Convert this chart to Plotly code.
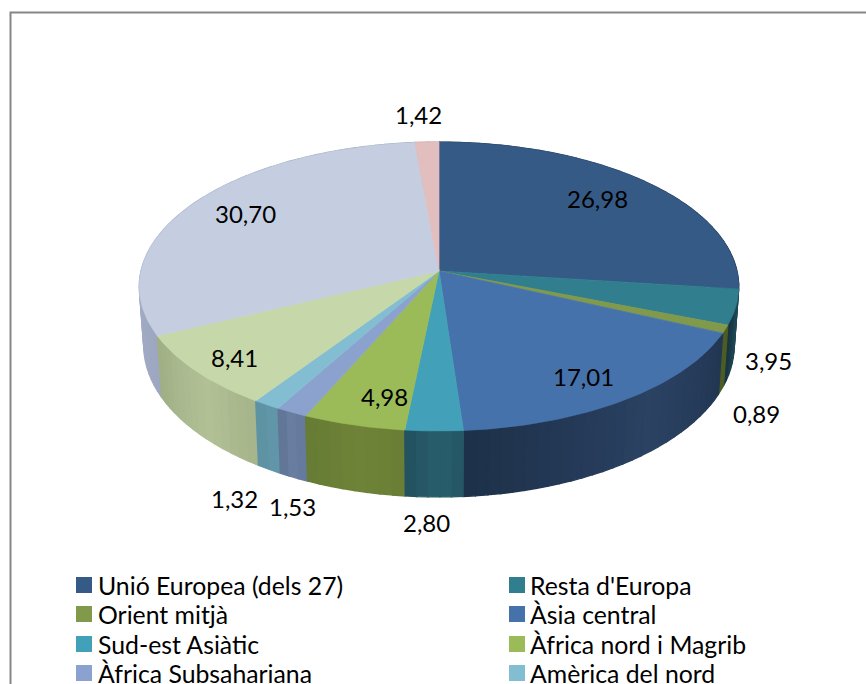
import math
import plotly.graph_objects as go

# ---- data ----
regions = ["Unió Europea (dels 27)", "Resta d'Europa", "Orient mitjà", "Àsia central",
           "Sud-est Asiàtic", "Àfrica nord i Magrib", "Àfrica Subsahariana", "Amèrica del nord",
           "Amèrica central i del sud", "Altres", "Oceania"]
values = [26.98, 3.95, 0.89, 17.01, 2.80, 4.98, 1.53, 1.32, 8.41, 30.70, 1.42]
value_labels = ["26,98", "3,95", "0,89", "17,01", "2,80", "4,98", "1,53", "1,32", "8,41", "30,70", "1,42"]
legend_shown = 8

# ---- style ----
top_colors = ["#355A86", "#317E8E", "#80994A", "#4672AC", "#42A0B8", "#9BBA58",
              "#8AA2CD", "#83BDD2", "#C6D8A9", "#C4CEE0", "#E2BEBE"]
side_light = ["#2A4464", "#1F4A58", "#4F5F25", "#2B4263", "#285E6E", "#6F8338",
              "#6B7FA2", "#6299AA", "#B2C096", "#A7B1CA", "#C09A9A"]
side_dark = ["#1C3049", "#17323F", "#3F4A1C", "#1D3049", "#22505E", "#667B33",
             "#5F7394", "#5B8FA0", "#9FAE84", "#98A2BC", "#A88686"]
label_pos = [(597, 198), (768, 360), (756, 413), (583, 376), (426, 522), (384, 396),
             (292, 506), (234, 498), (234, 357), (245, 213), (418, 114)]
legend_cols = [(84, 96), (517, 528)]
legend_rows = [585, 614, 644, 673]
FONT = "Lato"

# projected-circle geometry of the pie, in page pixels
CX, CY, A, B, K = 439, 271, 142.8, 298.0, 0.1073
BOTTOM_CY, BOTTOM_FX, BOTTOM_FY = 329, 0.985, 1.05


def hex_mix(c1, c2, t):
    a = [int(c1[i:i + 2], 16) for i in (1, 3, 5)]
    b = [int(c2[i:i + 2], 16) for i in (1, 3, 5)]
    return "#" + "".join(f"{round(p + (q - p) * t):02X}" for p, q in zip(a, b))


def project(share, bottom=False):
    th = 2 * math.pi * share / 100
    u, v = math.sin(th), -math.cos(th)
    s = 1 / (1 - K * v)
    if bottom:
        return CX + BOTTOM_FX * B * u * s, BOTTOM_CY + BOTTOM_FY * A * v * s
    return CX + B * u * s, CY + A * v * s


def arc(a, b, bottom=False, step=0.25):
    n = max(2, int((b - a) / step) + 1)
    return [project(a + (b - a) * i / (n - 1), bottom) for i in range(n)]


fig = go.Figure()

# frame: left and top edges are visible, the rest runs off the page
fig.add_shape(type="rect", x0=10.5, y0=12.5, x1=900, y1=720,
              line=dict(color="#868686", width=2), fillcolor="white", layer="below")

total = sum(values)
shares = [v * 100 / total for v in values]
starts = [sum(shares[:i]) for i in range(len(shares))]

# sides: thin strips of each slice, back to front
strips = []
for i, (st, sh) in enumerate(zip(starts, shares)):
    n = max(1, round(sh / 0.6))
    for j in range(n):
        a = st + sh * j / n
        b = st + sh * (j + 1) / n
        t = abs((j + 0.5) / n - 0.4) / 0.6
        strips.append((-math.cos(2 * math.pi * (a + b) / 200), i, a, b, t))
for _, i, a, b, t in sorted(strips):
    top = arc(a, b)
    bot = arc(a, b, bottom=True)
    pts = top + bot[::-1] + top[:1]
    col = hex_mix(side_light[i], side_dark[i], t)
    fig.add_trace(go.Scatter(x=[p[0] for p in pts], y=[p[1] for p in pts], mode="lines",
                             fill="toself", fillcolor=col, line=dict(color=col, width=1.3),
                             hoverinfo="skip", showlegend=False))

# top faces
for i, (st, sh) in enumerate(zip(starts, shares)):
    pts = [(CX, CY)] + arc(st, st + sh) + [(CX, CY)]
    fig.add_trace(go.Scatter(x=[p[0] for p in pts], y=[p[1] for p in pts], mode="lines",
                             fill="toself", fillcolor=top_colors[i],
                             line=dict(color=top_colors[i], width=0.7),
                             name=regions[i], text=value_labels[i], hoverinfo="name+text",
                             showlegend=False))

# value labels
for txt, (x, y) in zip(value_labels, label_pos):
    fig.add_annotation(x=x, y=y, text=txt, showarrow=False, xanchor="center", yanchor="middle",
                       font=dict(family=FONT, size=24, color="#000000"))

# legend (two columns, cut by the page edge as in the reference)
for i in range(legend_shown):
    mx, tx = legend_cols[i % 2]
    y = legend_rows[i // 2]
    fig.add_trace(go.Scatter(x=[mx], y=[y], mode="markers",
                             marker=dict(symbol="square", size=16, color=top_colors[i]),
                             hoverinfo="skip", showlegend=False))
    fig.add_annotation(x=tx, y=y, text=regions[i], showarrow=False, xanchor="left", yanchor="middle",
                       font=dict(family=FONT, size=24.8, color="#000000"))

fig.update_layout(
    width=866, height=684, margin=dict(l=0, r=0, t=0, b=0),
    paper_bgcolor="white", plot_bgcolor="white",
    xaxis=dict(range=[0, 866], visible=False, fixedrange=True),
    yaxis=dict(range=[684, 0], visible=False, fixedrange=True),
)
fig.write_html("out.html", config={"displayModeBar": False},
               post_script="document.body.style.margin='0';document.body.style.overflow='hidden';")
